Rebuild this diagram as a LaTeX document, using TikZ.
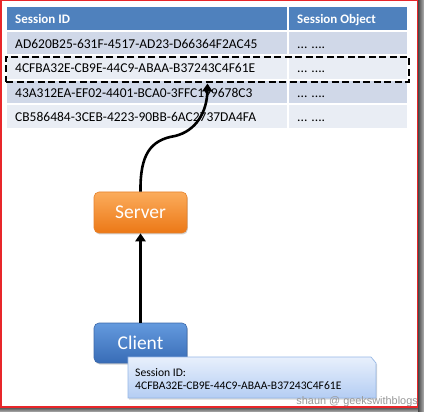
\documentclass[tikz,border=0pt]{standalone}
\usepackage{fontspec}
\setmainfont{Carlito}
\newfontfamily\wmfont{Liberation Sans}
\usetikzlibrary{arrows.meta,shadows}

\definecolor{hdr}{RGB}{79,129,189}
\definecolor{rowA}{RGB}{208,216,232}
\definecolor{rowB}{RGB}{233,237,244}
\definecolor{framered}{RGB}{232,38,42}
\definecolor{orTop}{RGB}{251,172,92}
\definecolor{orBot}{RGB}{236,120,22}
\definecolor{orLine}{RGB}{230,130,45}
\definecolor{blTop}{RGB}{100,154,222}
\definecolor{blBot}{RGB}{56,108,182}
\definecolor{blLine}{RGB}{60,105,170}
\definecolor{coTop}{RGB}{232,240,252}
\definecolor{coBot}{RGB}{180,205,243}
\definecolor{coLine}{RGB}{150,183,230}

\tikzset{
  celltext/.style={inner sep=0pt, anchor=base west, font=\fontsize{13.5}{15}\selectfont},
  hdrtext/.style={celltext, text=white, font=\fontsize{13}{15}\selectfont\bfseries},
  boxnode/.style={rectangle, rounded corners=5pt, minimum width=93pt, text=white,
    font=\fontsize{19.5}{22}\selectfont,
    drop shadow={opacity=0.35, shadow xshift=0.8pt, shadow yshift=-1.5pt}},
  serverbox/.style={boxnode, minimum height=41pt, top color=orTop, bottom color=orBot, draw=orLine, line width=0.6pt},
  clientbox/.style={boxnode, minimum height=40pt, top color=blTop, bottom color=blBot, draw=blLine, line width=0.6pt},
  calltext/.style={inner sep=0pt, anchor=base west, font=\fontsize{11.6}{13}\selectfont},
  selbox/.style={draw=black, line width=2.4pt, dash pattern=on 7pt off 3.5pt, minimum width=403pt, minimum height=25.5pt, inner sep=0pt},
  arr/.style={line width=2.6pt, -{Triangle[length=8pt,width=10pt]}},
}

\begin{document}
\begin{tikzpicture}[x=1pt,y=-1pt]
\useasboundingbox (0,0) rectangle (424,412);
\fill[white] (0,0) rectangle (418,407);

% table
\fill[hdr] (7,7) rectangle (287,30);
\fill[hdr] (289,7) rectangle (407,30);
\foreach \i/\c in {0/rowA,1/rowB,2/rowA,3/rowB}{
  \fill[\c] (7,{32+24.5*\i}) rectangle (287,{54.5+24.5*\i});
  \fill[\c] (289,{32+24.5*\i}) rectangle (407,{54.5+24.5*\i});
}
\node[hdrtext] (h1) at (15,24) {Session ID};
\node[hdrtext] (h2) at (297,24) {Session Object};
\node[celltext] (r1a) at (15,48.5) {AD620B25-631F-4517-AD23-D66364F2AC45};
\node[celltext] (r2a) at (15,73) {4CFBA32E-CB9E-44C9-ABAA-B37243C4F61E};
\node[celltext] (r3a) at (15,97.5) {43A312EA-EF02-4401-BCA0-3FFC199678C3};
\node[celltext] (r4a) at (15,122) {CB586484-3CEB-4223-90BB-6AC2737DA4FA};
\node[celltext] (r1b) at (297,48.5) {... ....};
\node[celltext] (r2b) at (297,73) {... ....};
\node[celltext] (r3b) at (297,97.5) {... ....};
\node[celltext] (r4b) at (297,122) {... ....};

\node[selbox] (sel) at (207.5,69.5) {};

% boxes
\node[serverbox] (server) at (140.5,212.5) {Server};
\node[clientbox] (client) at (140.5,343) {Client};

% callout
\shadedraw[top color=coTop, bottom color=coBot, draw=coLine, line width=0.7pt,
  drop shadow={opacity=0.3, shadow xshift=1pt, shadow yshift=-1.5pt}]
  (128,357) -- (371,357) -- (376,363) -- (376,398) -- (128,398) -- cycle;
\node[calltext] (c1) at (135,376) {Session ID:};
\node[calltext] (c2) at (135,389.3) {4CFBA32E-CB9E-44C9-ABAA-B37243C4F61E};

% connectors
\draw[arr] (client.north) -- (server.south);
\draw[arr] (server.north) .. controls (140,155) and (150,140) .. (175,136)
   .. controls (196,131) and (207,112) .. (sel.south);

% frame and shadow
\shade[top color=black!72, bottom color=black!30] (0,407) rectangle (424,412);
\shade[left color=black!72, right color=black!30] (418,0) rectangle (424,412);
\draw[framered, line width=1.5pt] (0.75,0.75) rectangle (417.25,406.75);

\node[inner sep=0pt, anchor=base east, text=black!40, font=\wmfont\fontsize{10.9}{12}\selectfont] (wm) at (418,404) {shaun @ geekswithblogs};
\end{tikzpicture}
\end{document}
